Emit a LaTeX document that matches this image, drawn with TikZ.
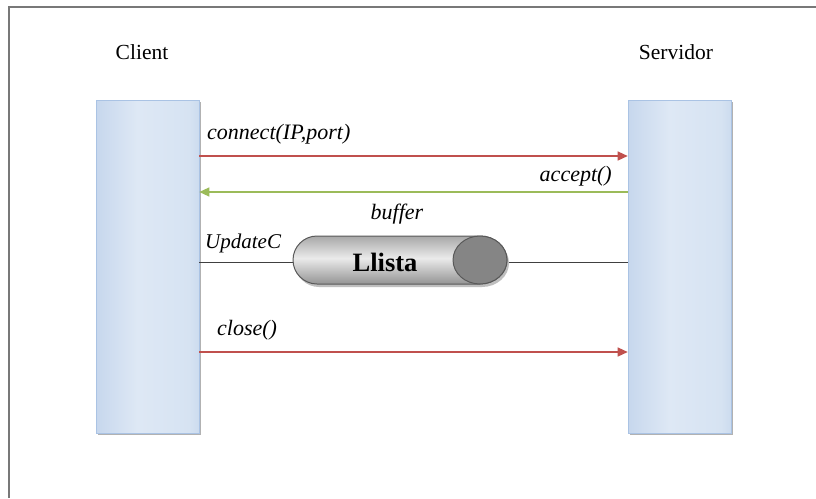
\documentclass[tikz,border=0pt]{standalone}
\usepackage{fontspec}
\setmainfont{Liberation Serif}
\usetikzlibrary{arrows.meta}

\definecolor{msgred}{RGB}{192,80,77}
\definecolor{msggreen}{RGB}{155,187,89}
\definecolor{framegray}{RGB}{120,120,120}
\definecolor{bartop}{RGB}{170,195,228}

% lifeline bars: darker blue at the edges, pale in the middle
\pgfdeclarehorizontalshading{barshade}{100bp}{
  rgb(0bp)=(0.60,0.71,0.86);
  rgb(12bp)=(0.72,0.80,0.91);
  rgb(45bp)=(0.87,0.91,0.96);
  rgb(70bp)=(0.84,0.89,0.95);
  rgb(92bp)=(0.66,0.76,0.89);
  rgb(100bp)=(0.58,0.69,0.85)}
% buffer cylinder body: dark rims, bright centre
\pgfdeclareverticalshading{cylshade}{100bp}{
  rgb(0bp)=(0.36,0.36,0.36);
  rgb(25bp)=(0.58,0.58,0.58);
  rgb(52bp)=(0.92,0.92,0.92);
  rgb(75bp)=(0.66,0.66,0.66);
  rgb(100bp)=(0.38,0.38,0.38)}

\tikzset{
  lifebar/.style={shading=barshade, draw=bartop, line width=0.6pt,
    minimum width=103pt, minimum height=333pt, inner sep=0pt},
  barshadow/.style={fill=black!30, draw=none, minimum width=103pt,
    minimum height=333pt, inner sep=0pt},
  actor/.style={font=\fontsize{21.5}{26}\selectfont},
  msglabel/.style={font=\fontsize{22}{26}\selectfont\itshape, inner sep=0pt},
  callmsg/.style={draw=msgred, line width=1.3pt,
    -{Triangle[length=10pt,width=9pt]}},
  replymsg/.style={draw=msggreen, line width=1.3pt,
    -{Triangle[length=10pt,width=9pt]}},
  plainlink/.style={draw=black!75, line width=1pt},
}

\begin{document}
\begin{tikzpicture}[x=1pt,y=-1pt]
  \useasboundingbox (0,0) rectangle (816,498);
  \fill[white] (0,0) rectangle (816,498);

  % outer frame, open at right and bottom
  \draw[framegray, line width=1.6pt] (9,498) -- (9,7) -- (816,7);

  % actor names
  \node[actor] (clientname) at (142,52) {Client};
  \node[actor] (servername) at (676,52) {Servidor};

  % lifeline bars with soft shadow
  \node[barshadow] at (149.5,268.5) {};
  \node[barshadow] at (681.5,268.5) {};
  \node[lifebar] (client) at (147.5,266.5) {};
  \node[lifebar] (server) at (679.5,266.5) {};

  % anchors on the bars for the message rows
  \coordinate (c1) at ([yshift=110.5pt]client.east);
  \coordinate (s1) at ([yshift=110.5pt]server.west);
  \coordinate (c2) at ([yshift=74.5pt]client.east);
  \coordinate (s2) at ([yshift=74.5pt]server.west);
  \coordinate (c3) at ([yshift=4.5pt]client.east);
  \coordinate (s3) at ([yshift=4.5pt]server.west);
  \coordinate (c4) at ([yshift=-85.5pt]client.east);
  \coordinate (s4) at ([yshift=-85.5pt]server.west);

  % messages
  \draw[callmsg] (c1) -- (s1);
  \node[msglabel, anchor=base west] (lconnect) at (207,139) {connect(IP,port)};

  \draw[replymsg] (s2) -- (c2);
  \node[msglabel, anchor=base east] (laccept) at (612,181) {accept()};

  \draw[plainlink] (c3) -- (s3);
  \node[msglabel, anchor=base west, font=\fontsize{21}{25}\selectfont\itshape]
    (lupdate) at (205,248) {UpdateC};
  \node[msglabel, anchor=base] (lbuffer) at (397,219) {buffer};

  % soft shadow under the cylinder
  \fill[black!25]
    (482,239) -- (319,239) arc[start angle=270, end angle=90, radius=24]
    -- (482,287) arc[start angle=90, end angle=-90, x radius=27, y radius=24]
    -- cycle;
  % buffer cylinder lying on its side
  \path[shading=cylshade, draw=black!65, line width=1pt]
    (480,236) -- (317,236) arc[start angle=270, end angle=90, radius=24]
    -- (480,284) arc[start angle=90, end angle=-90, x radius=27, y radius=24]
    -- cycle;
  \filldraw[fill=black!48, draw=black!65, line width=1pt]
    (480,260) ellipse[x radius=27, y radius=24];
  \node[font=\fontsize{26.5}{30}\selectfont\bfseries] (llista) at (385,262) {Llista};

  \draw[callmsg] (c4) -- (s4);
  \node[msglabel, anchor=base west] (lclose) at (217,335) {close()};
\end{tikzpicture}
\end{document}
